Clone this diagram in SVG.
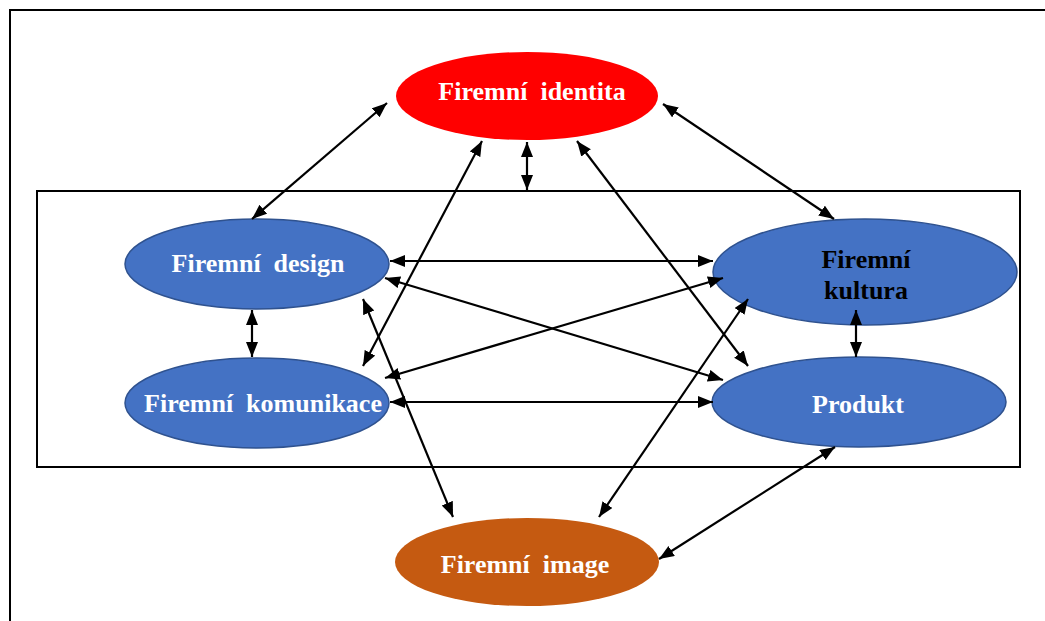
<svg xmlns="http://www.w3.org/2000/svg" width="1045" height="621" viewBox="0 0 1045 621">
<style>
.frame{fill:none;stroke:#000;stroke-width:2}
.blue{fill:#4472C4;stroke:#2F528F;stroke-width:1.5}
.lbl{font-family:"Liberation Serif","Times New Roman",serif;font-weight:bold;font-size:26px;text-anchor:middle;fill:#fff}
.dark{fill:#000}
.con line{stroke:#000;stroke-width:2.2;marker-start:url(#ah);marker-end:url(#ah)}
</style>
<defs>
<marker id="ah" markerUnits="userSpaceOnUse" markerWidth="17" markerHeight="13" refX="15" refY="6" orient="auto-start-reverse">
<path d="M0,0 L15,6 L0,12 z" fill="#000"/>
</marker>
</defs>
<rect width="1045" height="621" fill="#fff"/>
<path class="frame" d="M10,630 V10 H1050"/>
<rect class="frame" x="37" y="191" width="983" height="276"/>
<g id="identita">
<ellipse cx="527" cy="96" rx="131" ry="44" fill="#FF0000"/>
<text class="lbl" x="532" y="100" xml:space="preserve">Firemní  identita</text>
</g>
<g id="design">
<ellipse class="blue" cx="257" cy="264" rx="132" ry="45"/>
<text class="lbl" x="258" y="272" xml:space="preserve">Firemní  design</text>
</g>
<g id="komunikace">
<ellipse class="blue" cx="257" cy="403" rx="132" ry="45"/>
<text class="lbl" x="263" y="412" xml:space="preserve">Firemní  komunikace</text>
</g>
<g id="kultura">
<ellipse class="blue" cx="865" cy="272" rx="152" ry="53"/>
<text class="lbl dark" x="866" y="268">Firemní</text>
<text class="lbl dark" x="866" y="299">kultura</text>
</g>
<g id="produkt">
<ellipse class="blue" cx="859" cy="402" rx="147" ry="45"/>
<text class="lbl" x="858" y="413">Produkt</text>
</g>
<g id="image">
<ellipse cx="527" cy="562" rx="132" ry="44" fill="#C55A11"/>
<text class="lbl" x="525" y="573" xml:space="preserve">Firemní  image</text>
</g>
<g class="con">
<line x1="387" y1="103" x2="252" y2="219"/>
<line x1="663" y1="104" x2="834" y2="219"/>
<line x1="527" y1="142" x2="527" y2="190"/>
<line x1="482" y1="141" x2="363" y2="366"/>
<line x1="577" y1="141" x2="748" y2="366"/>
<line x1="390" y1="261" x2="713" y2="261"/>
<line x1="385" y1="278" x2="723" y2="380"/>
<line x1="385" y1="378" x2="723" y2="278"/>
<line x1="390" y1="402" x2="713" y2="402"/>
<line x1="363" y1="299" x2="453" y2="517"/>
<line x1="748" y1="299" x2="599" y2="517"/>
<line x1="835" y1="447" x2="659" y2="559"/>
<line x1="252" y1="310" x2="252" y2="357"/>
<line x1="856" y1="310" x2="856" y2="357"/>
</g>
</svg>
